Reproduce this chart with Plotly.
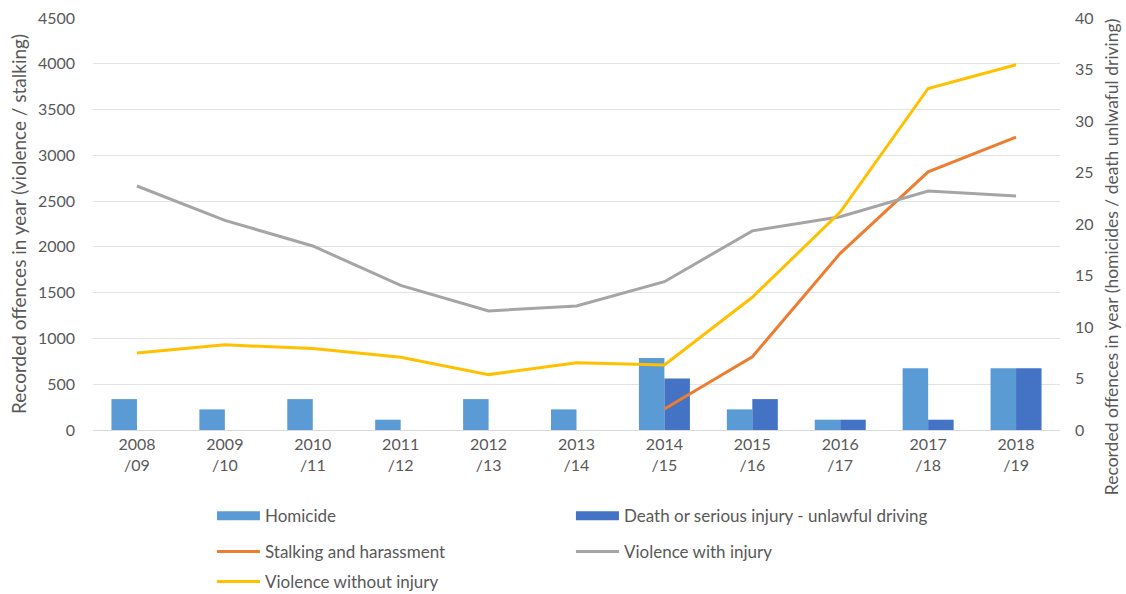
import plotly.graph_objects as go

years = ["2008<br>/09", "2009<br>/10", "2010<br>/11", "2011<br>/12", "2012<br>/13", "2013<br>/14",
         "2014<br>/15", "2015<br>/16", "2016<br>/17", "2017<br>/18", "2018<br>/19"]

homicide = [3, 2, 3, 1, 3, 2, 7, 2, 1, 6, 6]
death_driving = [0, 0, 0, 0, 0, 0, 5, 3, 1, 1, 6]
stalking = [None, None, None, None, None, None, 230, 800, 1930, 2820, 3200]
violence_with_injury = [2665, 2290, 2010, 1580, 1300, 1355, 1620, 2175, 2330, 2610, 2555]
violence_without_injury = [840, 930, 890, 795, 605, 735, 710, 1450, 2380, 3730, 3990]

FONT = "Lato"
GREY_TXT = "#595959"
C_HOM, C_DRV = "#5B9BD5", "#4472C4"

fig = go.Figure()

# Counts of rare offences use the right-hand axis (y), lines the left-hand one (y2)
fig.add_trace(go.Bar(x=years, y=homicide, name="Homicide", marker_color=C_HOM,
                     marker_line_width=0, yaxis="y", showlegend=False))
fig.add_trace(go.Bar(x=years, y=death_driving, name="Death or serious injury - unlawful driving",
                     marker_color=C_DRV, marker_line_width=0, yaxis="y", showlegend=False))

# Legend keys for the bar series drawn as wide, flat swatches
fig.add_trace(go.Scatter(x=[None], y=[None], name="Homicide", mode="lines",
                         line=dict(color=C_HOM, width=9), legend="legend"))
fig.add_trace(go.Scatter(x=[None], y=[None], name="Death or serious injury - unlawful driving",
                         mode="lines", line=dict(color=C_DRV, width=9), legend="legend"))

fig.add_trace(go.Scatter(x=years, y=stalking, name="Stalking and harassment", mode="lines",
                         line=dict(color="#ED7D31", width=3), yaxis="y2", legend="legend2"))
fig.add_trace(go.Scatter(x=years, y=violence_with_injury, name="Violence with injury", mode="lines",
                         line=dict(color="#A5A5A5", width=3), yaxis="y2", legend="legend2"))
fig.add_trace(go.Scatter(x=years, y=violence_without_injury, name="Violence without injury", mode="lines",
                         line=dict(color="#FFC000", width=3), yaxis="y2", legend="legend3"))

legend_common = dict(orientation="h", xanchor="left", yanchor="middle", x=0.123,
                     entrywidth=301, entrywidthmode="pixels", itemwidth=43,
                     font=dict(family=FONT, size=17, color=GREY_TXT),
                     bgcolor="rgba(0,0,0,0)", itemclick=False, itemdoubleclick=False)

fig.update_layout(
    width=1126, height=594,
    margin=dict(l=93, r=66, t=18, b=164, autoexpand=False),
    paper_bgcolor="white", plot_bgcolor="white",
    barmode="group", bargap=0.42, bargroupgap=0,
    font=dict(family=FONT, size=16, color=GREY_TXT),
    xaxis=dict(type="category", showgrid=False, showline=True, linecolor="#D9D9D9", linewidth=1,
               ticks="", tickfont=dict(family=FONT, size=16, color=GREY_TXT)),
    yaxis=dict(side="right", range=[0, 40], dtick=5, showgrid=False, zeroline=False,
               tickfont=dict(family=FONT, size=16, color=GREY_TXT), ticklabelstandoff=14),
    yaxis2=dict(side="left", overlaying="y", range=[0, 4500], dtick=500, showgrid=True,
                gridcolor="#E3E3E3", gridwidth=1, zeroline=False,
                tickfont=dict(family=FONT, size=16, color=GREY_TXT), ticklabelstandoff=17,
                title=dict(text="Recorded offences in year (violence / stalking)",
                           font=dict(family=FONT, size=19, color=GREY_TXT), standoff=6)),
    legend=dict(legend_common, y=-0.209),
    legend2=dict(legend_common, y=-0.296),
    legend3=dict(legend_common, y=-0.369),
    annotations=[dict(
        text="Recorded offences in year (homicides / death unlwaful driving)",
        xref="paper", yref="paper", x=1.054, y=0.42, xanchor="center", yanchor="middle",
        textangle=-90, showarrow=False, font=dict(family=FONT, size=17.5, color=GREY_TXT))],
)

fig.write_html("out.html")
